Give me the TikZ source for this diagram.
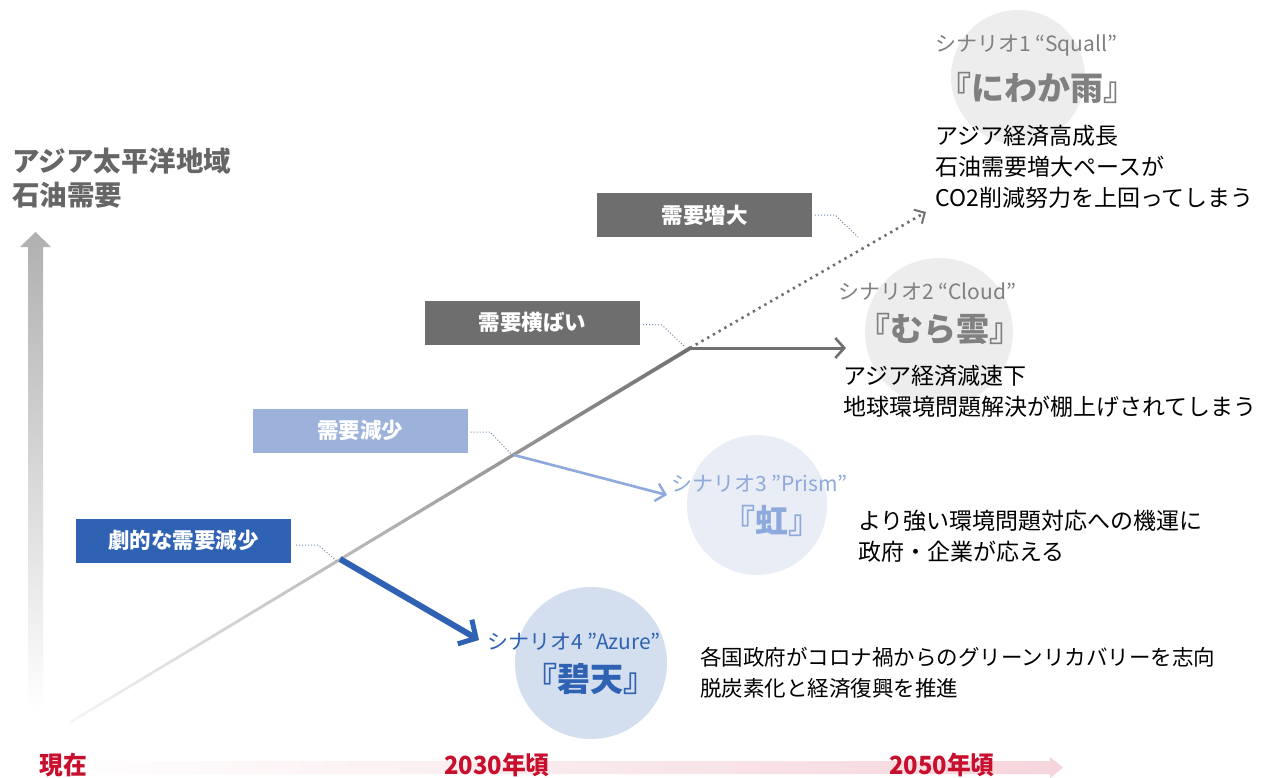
\documentclass[tikz,border=0pt]{standalone}
\usepackage{fontspec}
\setmainfont{Noto Sans CJK JP}
\usetikzlibrary{arrows.meta,calc}
\definecolor{boxgray}{HTML}{6E6E6E}
\definecolor{linegray}{HTML}{707070}
\definecolor{lblue}{HTML}{9CB2DA}
\definecolor{lbline}{HTML}{8EA9DB}
\definecolor{dblue}{HTML}{2F62B3}
\definecolor{circgray}{HTML}{EDEDED}
\definecolor{circlb}{HTML}{E8EDF6}
\definecolor{circb}{HTML}{D3DEEF}
\definecolor{axred}{HTML}{C8102E}
\definecolor{axpink}{HTML}{F5D5DB}
\definecolor{titlegray}{HTML}{666666}
\definecolor{scgray}{HTML}{808080}
\definecolor{sclb}{HTML}{8EA9DB}
\definecolor{scb}{HTML}{2F62B3}
\tikzset{
  box/.style={rectangle, minimum width=215pt, minimum height=44pt, text=white,
    font=\fontsize{21.5}{24}\selectfont\bfseries, inner sep=0pt},
  bubble/.style={circle, inner sep=0pt},
  sclabel/.style={anchor=west, inner sep=0pt, font=\fontsize{21}{23}\selectfont},
  scname/.style={anchor=center, inner sep=0pt, font=\fontsize{33}{36}\selectfont\bfseries},
  desc/.style={anchor=north west, inner sep=0pt, align=left, text=black,
    font=\fontsize{23}{31}\selectfont},
  callout/.style={draw=lbline!80!black, dotted, line width=1pt},
  axlabel/.style={text=axred, inner sep=0pt, font=\fontsize{25}{27}\selectfont\bfseries},
}
\begin{document}
\begin{tikzpicture}[x=1pt,y=-1pt]
\useasboundingbox[fill=white] (0,0) rectangle (1271,778);

% bubbles
\node[bubble, fill=circgray, minimum size=134pt] (c1) at (1018,77) {};
\node[bubble, fill=circgray, minimum size=148pt] (c2) at (939,332) {};
\node[bubble, fill=circlb, minimum size=140pt] (c3) at (757,505) {};
\node[bubble, fill=circb, minimum size=152pt] (c4) at (591,663) {};

% vertical axis
\shade[top color=gray!62, bottom color=white]
  (28,712) -- (28,247) -- (20,247) -- (35.5,232) -- (51,247) -- (43,247) -- (43,712) -- cycle;
\node[anchor=north west, inner sep=0pt, align=left, text=titlegray,
  font=\fontsize{27.5}{34}\selectfont\bfseries] (title) at (12,148) {アジア太平洋地域\\石油需要};

% time axis
\shade[left color=white, right color=axpink]
  (45,761) -- (1050,761) -- (1050,757) -- (1063,767.5) -- (1050,778) -- (1050,774) -- (45,774) -- cycle;
\node[axlabel] (now) at (63,765) {\scalebox{0.95}[1]{現在}};
\node[axlabel] (y2030) at (497,765) {\scalebox{0.95}[1]{2030年頃}};
\node[axlabel] (y2050) at (942,765) {\scalebox{0.95}[1]{2050年頃}};

% main trend line
\coordinate (start) at (70,722);
\coordinate (knee) at (690,348);
\coordinate (p4) at (340,559);
\coordinate (p3) at (514,455);
\shade[left color=gray!8, right color=linegray]
  (70,721) -- (690,346) -- (690,350.5) -- (70,723.8) -- cycle;

% scenario branches
\coordinate (e1) at (926,212);
\coordinate (e2) at (846,348);
\coordinate (e3) at (667,495);
\coordinate (e4) at (479,640);
\draw[linegray, line width=2.6pt, dash pattern=on 2.4pt off 4.2pt,
  -{Straight Barb[length=8pt,width=16pt,line width=2pt]}] (knee) -- (e1);
\draw[linegray, line width=3pt,
  -{Straight Barb[length=9pt,width=20pt,line width=2.6pt]}] (knee) -- (e2);
\draw[lbline, line width=2.6pt,
  -{Straight Barb[length=9pt,width=18pt,line width=2.4pt]}] (p3) -- (e3);
\draw[dblue, line width=6pt,
  -{Straight Barb[length=13pt,width=28pt,line width=5pt]}] (p4) -- (e4);

% boxes
\node[box, fill=boxgray] (b1) at (704.5,215) {需要増大};
\node[box, fill=boxgray] (b2) at (532.5,322.5) {需要横ばい};
\node[box, fill=lblue] (b3) at (360,430.5) {需要減少};
\node[box, fill=dblue] (b4) at (183.5,540.5) {劇的な需要減少};

% dotted callouts
\coordinate (k1) at (835,215);
\coordinate (t1) at (858,237);
\coordinate (k2) at (662,325);
\coordinate (t2) at (685,347);
\coordinate (k3) at (490,432);
\coordinate (t3) at (512,455);
\coordinate (k4) at (318,545);
\coordinate (t4) at (338,562);
\draw[callout] ([xshift=3pt]b1.east) -- (k1) -- (t1);
\draw[callout] ([xshift=3pt,yshift=-2pt]b2.east) -- (k2) -- (t2);
\draw[callout] ([xshift=3pt,yshift=-1.5pt]b3.east) -- (k3) -- (t3);
\draw[callout] ([xshift=5pt,yshift=-4.5pt]b4.east) -- (k4) -- (t4);

% scenario 1
\node[sclabel, text=scgray] (s1) at (935,46) {シナリオ1 “Squall”};
\node[scname, text=scgray] (n1) at (1037,88) {『にわか雨』};
\node[desc] (d1) at (935,125) {アジア経済高成長\\石油需要増大ペースが\\CO2削減努力を上回ってしまう};

% scenario 2
\node[sclabel, text=scgray] (s2) at (838,292) {シナリオ2 “Cloud”};
\node[scname, text=scgray] (n2) at (940,329) {『むら雲』};
\node[desc] (d2) at (843,365) {アジア経済減速下\\地球環境問題解決が棚上げされてしまう};

% scenario 3
\node[sclabel, text=sclb] (s3) at (671,484) {シナリオ3 ”Prism”};
\node[scname, text=sclb] (n3) at (772,521) {『虹』};
\node[desc] (d3) at (858,510) {より強い環境問題対応への機運に\\政府・企業が応える};

% scenario 4
\node[sclabel, text=scb] (s4) at (487,642) {シナリオ4 ”Azure”};
\node[scname, text=scb] (n4) at (590,679) {『碧天』};
\node[desc, font=\fontsize{21.5}{31}\selectfont] (d4) at (700,647) {各国政府がコロナ禍からのグリーンリカバリーを志向\\脱炭素化と経済復興を推進};
\end{tikzpicture}
\end{document}
